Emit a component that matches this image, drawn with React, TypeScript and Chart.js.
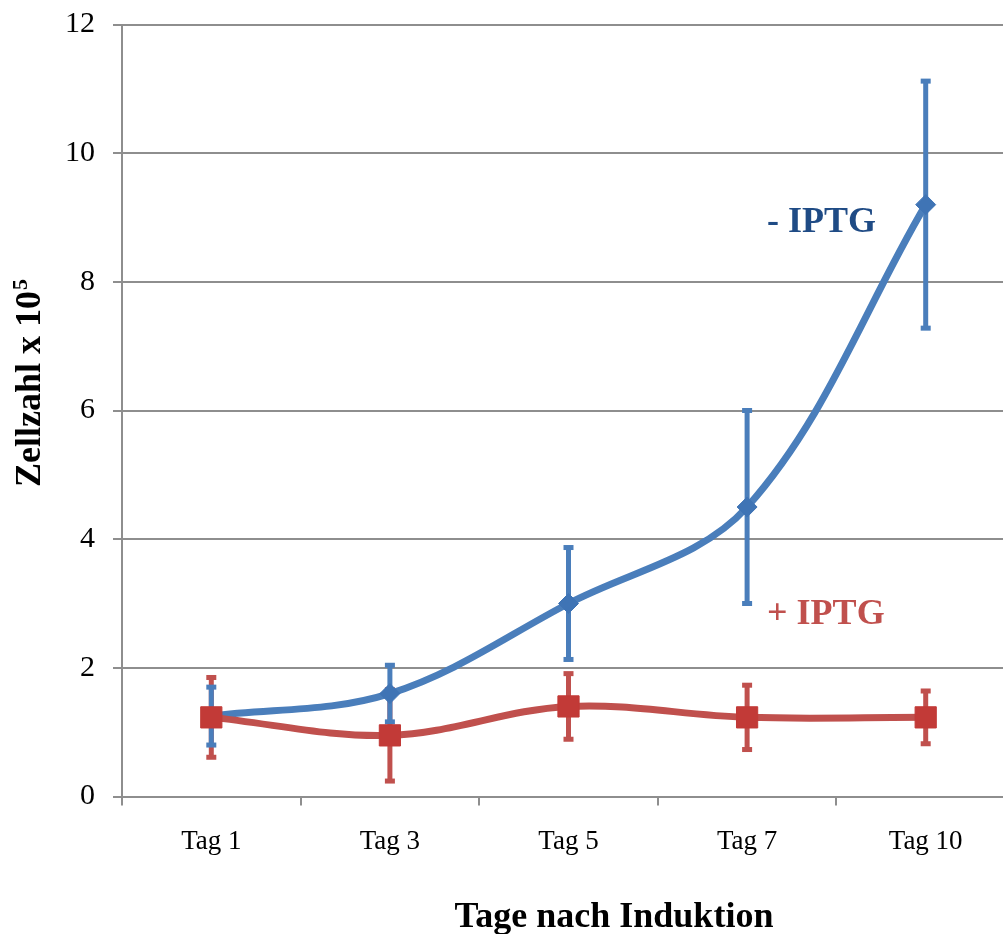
import React, { useEffect, useRef } from "react";
import { Chart, registerables } from "chart.js";

Chart.register(...registerables);

// Zellzahl (x 10^5) an den Messtagen nach der Induktion
const days = ["Tag 1", "Tag 3", "Tag 5", "Tag 7", "Tag 10"];
const ohneIptg = [1.25, 1.6, 3.0, 4.5, 9.2];
const ohneIptgFehler = [0.45, 0.44, 0.87, 1.5, 1.92];
const mitIptg = [1.23, 0.95, 1.4, 1.23, 1.23];
const mitIptgFehler = [0.62, 0.71, 0.51, 0.5, 0.41];
const yTicks = [0, 2, 4, 6, 8, 10, 12];

const SERIF = "'Liberation Serif', 'Times New Roman', serif";
const GRID = "#8e8e8e";
const BLUE = "#4a7ebb";
const BLUE_DARK = "#1f4b85";
const RED = "#c0504d";
const RED_MARK = "#c23a37";

const CANVAS_W = 1031;
const CANVAS_H = 934;

// Fehlerbalken hinter den Linien zeichnen (erst +IPTG, dann -IPTG)
const errorBars = {
  id: "errorBars",
  beforeDatasetsDraw(chart: any) {
    const { ctx } = chart;
    const xs = chart.scales.x;
    const ys = chart.scales.y;
    chart.data.datasets.forEach((ds: any) => {
      const vals: number[] = ds.data;
      const errs: number[] = ds.errors;
      ctx.save();
      ctx.strokeStyle = ds.errorColor;
      ctx.fillStyle = ds.errorColor;
      ctx.lineWidth = 5;
      vals.forEach((v, i) => {
        const px = xs.getPixelForValue(i);
        const top = ys.getPixelForValue(v + errs[i]);
        const bot = ys.getPixelForValue(v - errs[i]);
        ctx.beginPath();
        ctx.moveTo(px, top);
        ctx.lineTo(px, bot);
        ctx.stroke();
        ctx.fillRect(px - 5, top - 2.5, 10, 5);
        ctx.fillRect(px - 5, bot - 2.5, 10, 5);
      });
      ctx.restore();
    });
  },
};

// Serienbeschriftungen und Achsentitel
const chartText = {
  id: "chartText",
  afterDraw(chart: any) {
    const { ctx } = chart;
    const xs = chart.scales.x;
    const ys = chart.scales.y;
    ctx.save();
    ctx.textAlign = "left";
    ctx.textBaseline = "alphabetic";
    ctx.font = `bold 36px ${SERIF}`;
    const labelX = xs.getPixelForValue(3) + 20;
    ctx.fillStyle = BLUE_DARK;
    ctx.fillText("- IPTG", labelX, ys.getPixelForValue(8.78));
    ctx.fillStyle = RED;
    ctx.fillText("+ IPTG", labelX, ys.getPixelForValue(2.68));

    // x-Achsentitel
    ctx.fillStyle = "#000";
    ctx.textAlign = "center";
    ctx.fillText("Tage nach Induktion", 614, 927);

    // y-Achsentitel mit hochgestellter 5
    ctx.translate(40, 487);
    ctx.rotate(-Math.PI / 2);
    ctx.textAlign = "left";
    const main = "Zellzahl x 10";
    ctx.fillText(main, 0, 0);
    const w = ctx.measureText(main).width;
    ctx.font = `bold 22px ${SERIF}`;
    ctx.fillText("5", w + 1, -13);
    ctx.restore();
  },
};

export default function App() {
  const canvasRef = useRef<HTMLCanvasElement>(null);

  useEffect(() => {
    const canvas = canvasRef.current;
    if (!canvas) return;
    const chart = new Chart(canvas, {
      type: "line",
      data: {
        labels: days,
        datasets: [
          {
            label: "+ IPTG",
            data: mitIptg,
            errors: mitIptgFehler,
            errorColor: RED,
            borderColor: RED,
            borderWidth: 7,
            tension: 0.35,
            pointStyle: "rect",
            pointRadius: 15,
            pointBackgroundColor: RED_MARK,
            pointBorderColor: RED_MARK,
            pointBorderWidth: 1,
          } as any,
          {
            label: "- IPTG",
            data: ohneIptg,
            errors: ohneIptgFehler,
            errorColor: BLUE,
            borderColor: BLUE,
            borderWidth: 7,
            tension: 0.35,
            pointStyle: "rectRot",
            pointRadius: 10,
            pointBackgroundColor: "#3f74b5",
            pointBorderColor: "#3f74b5",
            pointBorderWidth: 1,
          } as any,
        ],
      },
      options: {
        responsive: false,
        animation: false,
        layout: { padding: { top: 24.5, right: 5, left: 0, bottom: 0 } },
        plugins: {
          legend: { display: false },
          tooltip: { enabled: false },
        },
        scales: {
          x: {
            type: "category",
            offset: true,
            grid: {
              offset: true,
              drawOnChartArea: false,
              tickLength: 9,
              color: GRID,
              lineWidth: 2,
            },
            border: { color: GRID, width: 2 },
            ticks: {
              font: { family: SERIF, size: 27 },
              color: "#000",
              padding: 20,
              maxRotation: 0,
            },
            afterFit: (s: any) => {
              s.height = 137.5;
              s.paddingLeft = 0;
              s.paddingRight = 0;
            },
          },
          y: {
            min: 0,
            max: 12,
            afterBuildTicks: (s: any) => {
              s.ticks = yTicks.map((v) => ({ value: v }));
            },
            grid: { color: GRID, lineWidth: 2, tickLength: 9 },
            border: { color: GRID, width: 2 },
            ticks: {
              font: { family: SERIF, size: 30 },
              color: "#000",
              padding: 18,
            },
            afterFit: (s: any) => {
              s.width = 122;
              s.paddingTop = 0;
              s.paddingBottom = 0;
            },
          },
        },
      },
      plugins: [errorBars, chartText],
    });
    return () => chart.destroy();
  }, []);

  return (
    <div
      style={{
        position: "absolute",
        left: 0,
        top: 0,
        width: 1003,
        height: 934,
        overflow: "hidden",
        background: "#fff",
      }}
    >
      <canvas
        ref={canvasRef}
        width={CANVAS_W}
        height={CANVAS_H}
        style={{ display: "block", width: CANVAS_W, height: CANVAS_H }}
      />
    </div>
  );
}
